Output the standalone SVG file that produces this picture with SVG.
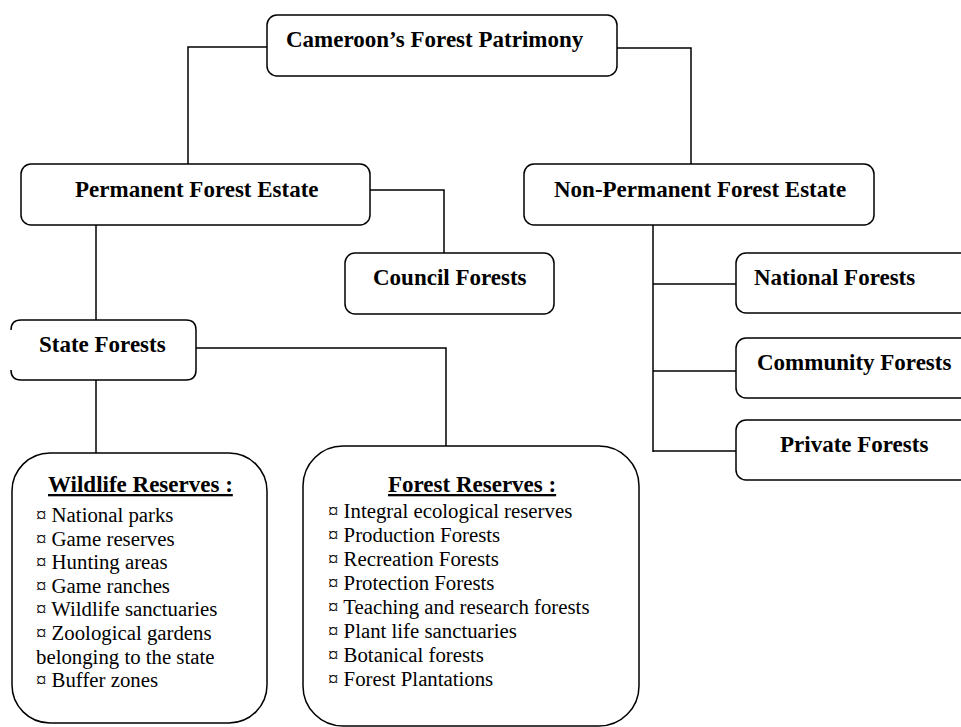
<svg xmlns="http://www.w3.org/2000/svg" width="961" height="727" viewBox="0 0 961 727">
<style>
  .box { fill: #fff; stroke: #000; stroke-width: 1.5; }
  .conn { fill: none; stroke: #000; stroke-width: 1.5; }
  .h { font-family: "Liberation Serif", "Times New Roman", serif; font-weight: bold; font-size: 23px; fill: #000; }
  .it { font-family: "Liberation Serif", "Times New Roman", serif; font-size: 20.8px; fill: #000; }
  .u { text-decoration: underline; }
</style>
<rect width="961" height="727" fill="#fff"/>
<g id="connectors">
  <polyline class="conn" points="267,47 188,47 188,164"/>
  <polyline class="conn" points="617,48 691,48 691,164"/>
  <polyline class="conn" points="370,190 444,190 444,253"/>
  <line class="conn" x1="96" y1="225" x2="96" y2="320"/>
  <polyline class="conn" points="196,348 446,348 446,446"/>
  <line class="conn" x1="96" y1="380" x2="96" y2="453"/>
  <line class="conn" x1="653" y1="225" x2="653" y2="452"/>
  <line class="conn" x1="653" y1="284" x2="736" y2="284"/>
  <line class="conn" x1="653" y1="371" x2="736" y2="371"/>
  <line class="conn" x1="653" y1="451" x2="736" y2="451"/>
</g>
<g id="patrimony">
  <rect class="box" x="267" y="15" width="350" height="61" rx="10"/>
  <text class="h" x="286" y="47">Cameroon’s Forest Patrimony</text>
</g>
<g id="permanent">
  <rect class="box" x="21" y="164" width="349" height="61" rx="10"/>
  <text class="h" x="75" y="197">Permanent Forest Estate</text>
</g>
<g id="non-permanent">
  <rect class="box" x="524" y="164" width="350" height="61" rx="10"/>
  <text class="h" x="554" y="197">Non-Permanent Forest Estate</text>
</g>
<g id="council">
  <rect class="box" x="345" y="253" width="209" height="61" rx="10"/>
  <text class="h" x="373" y="285">Council Forests</text>
</g>
<g id="state">
  <path class="box" d="M11,330 Q11,320 21,320 L186,320 Q196,320 196,330 L196,370 Q196,380 186,380 L21,380 Q11,380 11,370"/>
  <text class="h" x="39" y="352">State Forests</text>
</g>
<g id="national">
  <rect class="box" x="736" y="253" width="240" height="60" rx="10"/>
  <text class="h" x="754" y="285">National Forests</text>
</g>
<g id="community">
  <rect class="box" x="736" y="338" width="240" height="60" rx="10"/>
  <text class="h" x="757" y="370">Community Forests</text>
</g>
<g id="private">
  <rect class="box" x="736" y="420" width="240" height="60" rx="10"/>
  <text class="h" x="780" y="452">Private Forests</text>
</g>
<g id="wildlife">
  <rect class="box" x="12" y="453" width="255" height="270" rx="38"/>
  <text class="h u" x="48" y="492">Wildlife Reserves :</text>
  <text class="it" x="36" y="522">¤ National parks</text>
  <text class="it" x="36" y="545.6">¤ Game reserves</text>
  <text class="it" x="36" y="569.2">¤ Hunting areas</text>
  <text class="it" x="36" y="592.8">¤ Game ranches</text>
  <text class="it" x="36" y="616.4">¤ Wildlife sanctuaries</text>
  <text class="it" x="36" y="640">¤ Zoological gardens</text>
  <text class="it" x="36" y="663.6">belonging to the state</text>
  <text class="it" x="36" y="687.2">¤ Buffer zones</text>
</g>
<g id="forest-reserves">
  <rect class="box" x="303" y="446" width="336" height="280" rx="40"/>
  <text class="h u" x="388" y="492">Forest Reserves :</text>
  <text class="it" x="328" y="518">¤ Integral ecological reserves</text>
  <text class="it" x="328" y="542">¤ Production Forests</text>
  <text class="it" x="328" y="566">¤ Recreation Forests</text>
  <text class="it" x="328" y="590">¤ Protection Forests</text>
  <text class="it" x="328" y="614">¤ Teaching and research forests</text>
  <text class="it" x="328" y="638">¤ Plant life sanctuaries</text>
  <text class="it" x="328" y="662">¤ Botanical forests</text>
  <text class="it" x="328" y="686">¤ Forest Plantations</text>
</g>
</svg>
